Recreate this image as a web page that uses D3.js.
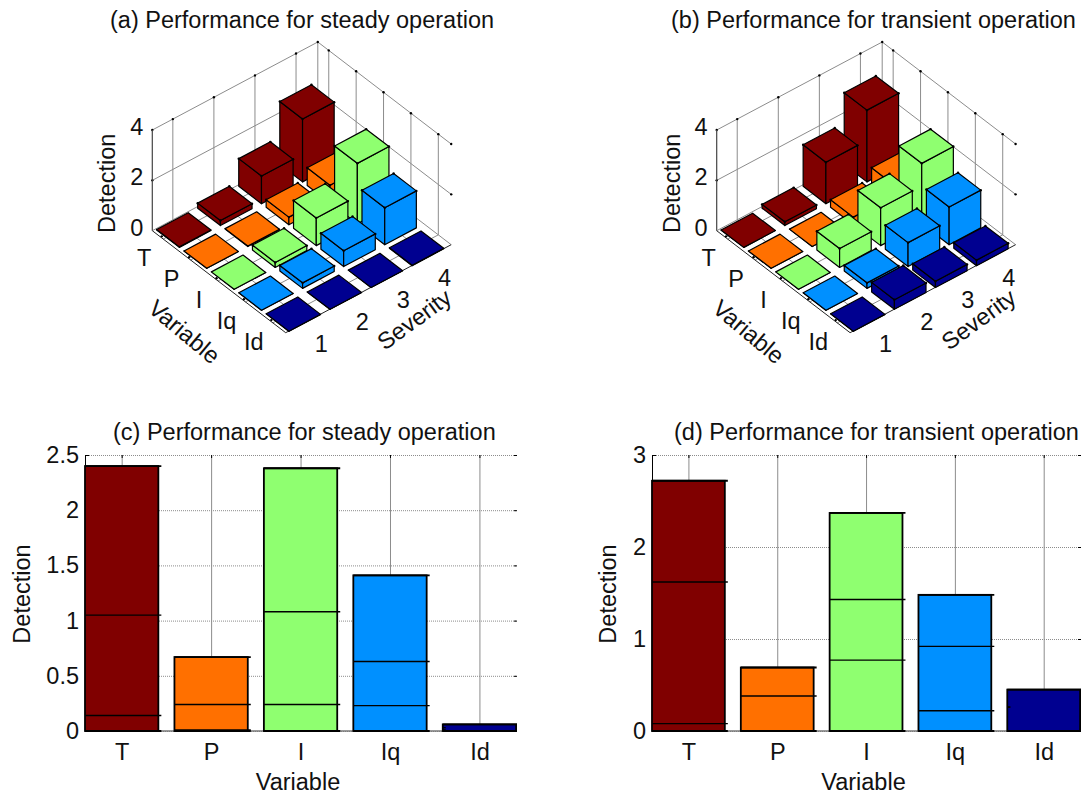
<!DOCTYPE html>
<html>
<head>
<meta charset="utf-8">
<title>Detection performance</title>
<script src="https://cdn.jsdelivr.net/npm/d3@7"></script>
<style>
body { margin: 0; background: #fff; }
text { font-family: "Liberation Sans", Arial, sans-serif; fill: #111; }
</style>
</head>
<body>
<svg id="chart" width="1083" height="796"></svg>
<script>
var variables = ["T", "P", "I", "Iq", "Id"];
var severities = [1, 2, 3, 4];
var colors = ["#800000", "#ff7000", "#8fff70", "#0090ff", "#000090"];

// heights of the 3d bars, one row per variable, one column per severity
var steadyBars = [
    [0.02, 0.2, 1.1, 2.5],
    [0, 0.02, 0.3, 0.7],
    [0, 0.2, 1.1, 2.4],
    [0, 0.22, 0.63, 1.47],
    [0, 0, 0, 0.02]
];
var transientBars = [
    [0, 0.15, 1.65, 2.85],
    [0, 0, 0.3, 0.7],
    [0, 0.75, 1.5, 2.4],
    [0, 0.22, 0.95, 1.5],
    [0, 0.38, 0.25, 0.22]
];

// contributions per severity for the stacked bars
var steadyStack = [
    [0, 0.14, 0.91, 1.35],
    [0, 0.01, 0.23, 0.43],
    [0, 0.24, 0.84, 1.3],
    [0, 0.23, 0.4, 0.78],
    [0, 0.01, 0.02, 0.03]
];
var transientStack = [
    [0, 0.08, 1.54, 1.1],
    [0, 0, 0.38, 0.31],
    [0, 0.77, 0.66, 0.94],
    [0, 0.22, 0.7, 0.56],
    [0, 0.26, 0, 0.19]
];

var steadyTicks = [0, 0.5, 1, 1.5, 2, 2.5];
var transientTicks = [0, 1, 2, 3];
var detectionTicks3d = [0, 2, 4];

var svg = d3.select("#chart");
var fontSize = 23.5;
var gridColor = "#8c8c8c";

/*
 * Draw one 3d panel. left is the screen position of the back left floor corner.
 */
function drawBars3d(left, title, titleX, data) {
    var g = svg.append("g");

    var uMin = 0.6, uMax = 5.47, vMin = 0.5, vMax = 4.53;
    var xU = d3.scaleLinear([uMin, uMax], [0, 133.4]);
    var yU = d3.scaleLinear([uMin, uMax], [0, 102]);
    var xV = d3.scaleLinear([vMin, vMax], [0, 165.5]);
    var yV = d3.scaleLinear([vMin, vMax], [0, -88]);
    var zS = d3.scaleLinear([0, 4], [0, 100.7]);

    function project(u, v, z) {
        return [left[0] + xU(u) + xV(v), left[1] + yU(u) + yV(v) - zS(z)];
    }

    function line(a, b, color, width) {
        g.append("line")
            .attr("x1", a[0]).attr("y1", a[1])
            .attr("x2", b[0]).attr("y2", b[1])
            .attr("stroke", color)
            .attr("stroke-width", width);
    }

    function dot(p) {
        g.append("circle")
            .attr("cx", p[0]).attr("cy", p[1])
            .attr("r", 1.2)
            .attr("fill", "#000");
    }

    // the two back walls
    detectionTicks3d.forEach(function(z) {
        if (z > 0) {
            line(project(uMin, vMin, z), project(uMin, vMax, z), gridColor, 1);
            line(project(uMin, vMax, z), project(uMax, vMax, z), gridColor, 1);
            dot(project(uMin, vMin, z));
            dot(project(uMax, vMax, z));
        }
    });
    severities.forEach(function(v) {
        line(project(uMin, v, 0), project(uMin, v, 4), gridColor, 1);
        line(project(uMin, v, 0), project(uMax, v, 0), gridColor, 1);
        dot(project(uMin, v, 4));
    });
    variables.forEach(function(name, i) {
        line(project(i + 1, vMax, 0), project(i + 1, vMax, 4), gridColor, 1);
        line(project(i + 1, vMin, 0), project(i + 1, vMax, 0), gridColor, 1);
        dot(project(i + 1, vMax, 4));
    });
    line(project(uMin, vMax, 0), project(uMin, vMax, 4), gridColor, 1);
    line(project(uMin, vMin, 0), project(uMin, vMin, 4), "#444", 1.2);
    line(project(uMin, vMin, 0), project(uMin, vMax, 0), gridColor, 1);
    line(project(uMin, vMax, 0), project(uMax, vMax, 0), gridColor, 1);
    dot(project(uMin, vMax, 4));

    // front floor edges
    line(project(uMin, vMin, 0), project(uMax, vMin, 0), "#222", 1);
    line(project(uMax, vMin, 0), project(uMax, vMax, 0), "#222", 1);
    variables.forEach(function(name, i) {
        dot(project(i + 1 - 0.1, vMin + 0.03, 0));
    });
    severities.forEach(function(s) {
        dot(project(uMax - 0.03, s - 0.1, 0));
    });

    // bars, back to front
    var cells = [];
    variables.forEach(function(name, i) {
        severities.forEach(function(s, j) {
            cells.push({u: i + 1.06, v: s - 0.04, z: data[i][j], color: colors[i]});
        });
    });
    cells.sort(function(a, b) { return (a.u - a.v) - (b.u - b.v); });

    var polygon = d3.line();
    cells.forEach(function(c) {
        var u0 = c.u - 0.415, u1 = c.u + 0.415;
        var v0 = c.v - 0.385, v1 = c.v + 0.385;
        var faces = [
            [[u0, v0, 0], [u1, v0, 0], [u1, v0, c.z], [u0, v0, c.z]],
            [[u1, v0, 0], [u1, v1, 0], [u1, v1, c.z], [u1, v0, c.z]],
            [[u0, v0, c.z], [u1, v0, c.z], [u1, v1, c.z], [u0, v1, c.z]]
        ];
        faces.forEach(function(face) {
            g.append("path")
                .attr("d", polygon(face.map(function(p) { return project(p[0], p[1], p[2]); })) + "Z")
                .attr("fill", c.color)
                .attr("stroke", "#000")
                .attr("stroke-width", 1.2)
                .attr("stroke-linejoin", "round");
        });
        if (c.z > 0.1) {
            dot(project(u1, v0, c.z));
            dot(project(u0, v0, c.z));
            dot(project(u1, v1, c.z));
            dot(project(u0, v1, c.z));
        }
    });

    // labels
    detectionTicks3d.forEach(function(z) {
        var p = project(uMin, vMin, z);
        g.append("text")
            .attr("x", p[0] - 9).attr("y", p[1] + 5)
            .attr("text-anchor", "end")
            .attr("font-size", fontSize)
            .text(z);
    });
    variables.forEach(function(name, i) {
        var p = project(i + 1, vMin, 0);
        g.append("text")
            .attr("x", p[0] - 19).attr("y", p[1] + 27)
            .attr("text-anchor", "middle")
            .attr("font-size", fontSize)
            .text(name);
    });
    severities.forEach(function(s) {
        var p = project(uMax, s, 0);
        g.append("text")
            .attr("x", p[0] + 15).attr("y", p[1] + 30)
            .attr("text-anchor", "middle")
            .attr("font-size", fontSize)
            .text(s);
    });

    var detection = project(uMin, vMin, 2);
    g.append("text")
        .attr("transform", "translate(" + (detection[0] - 37) + "," + (detection[1] + 3) + ") rotate(-90)")
        .attr("text-anchor", "middle")
        .attr("font-size", fontSize)
        .text("Detection");

    var variableAt = project(3, vMin, 0);
    g.append("text")
        .attr("transform", "translate(" + (variableAt[0] - 39) + "," + (variableAt[1] + 57) + ") rotate(40)")
        .attr("text-anchor", "middle")
        .attr("font-size", fontSize)
        .text("Variable");

    var severityAt = project(uMax, 3.6, 0);
    g.append("text")
        .attr("transform", "translate(" + (severityAt[0] + 6) + "," + (severityAt[1] + 61) + ") rotate(-36)")
        .attr("text-anchor", "middle")
        .attr("font-size", fontSize)
        .text("Severity");

    g.append("text")
        .attr("x", titleX).attr("y", 28)
        .attr("font-size", fontSize)
        .text(title);
}

/*
 * Draw one stacked bar panel.
 */
function drawStacked(box, title, titleX, data, yMax, yTicks, clipId) {
    var width = box.right - box.left;
    var height = box.bottom - box.top;
    var g = svg.append("g").attr("transform", "translate(" + box.left + "," + box.top + ")");

    var x = d3.scaleLinear([0.59, 5.42], [0, width]);
    var y = d3.scaleLinear([0, yMax], [height, 0]);
    var barHalf = 0.41;

    // grid
    g.append("g")
        .call(d3.axisLeft(y).tickValues(yTicks).tickSize(-width).tickFormat(""))
        .call(function(a) {
            a.select(".domain").remove();
            a.selectAll("line").attr("stroke", gridColor).attr("stroke-dasharray", "1,1");
        });
    g.append("g")
        .attr("transform", "translate(0," + height + ")")
        .call(d3.axisBottom(x).tickValues([1, 2, 3, 4, 5]).tickSize(-height).tickFormat(""))
        .call(function(a) {
            a.select(".domain").remove();
            a.selectAll("line").attr("stroke", gridColor);
        });
    g.append("line").attr("y1", height).attr("y2", height).attr("x1", 0).attr("x2", width)
        .attr("stroke", "#777").attr("stroke-width", 1.5);

    // axes with their labels
    var yAxis = g.append("g")
        .call(d3.axisLeft(y).tickValues(yTicks).tickSize(-4).tickPadding(6).tickFormat(d3.format("~g")));
    yAxis.select(".domain").attr("stroke", "#000");
    yAxis.selectAll("line").attr("stroke", "#000");
    yAxis.selectAll("text").attr("font-size", fontSize).attr("font-family", null);

    var rightTicks = g.append("g")
        .attr("transform", "translate(" + width + ",0)")
        .call(d3.axisRight(y).tickValues(yTicks).tickSize(-3).tickFormat(""));
    rightTicks.select(".domain").remove();
    rightTicks.selectAll("line").attr("stroke", "#000");

    var xAxis = g.append("g")
        .attr("transform", "translate(0," + height + ")")
        .call(d3.axisBottom(x).tickValues([1, 2, 3, 4, 5]).tickSize(-3).tickPadding(12)
            .tickFormat(function(d) { return variables[d - 1]; }));
    xAxis.select(".domain").remove();
    xAxis.selectAll("line").attr("stroke", "#000");
    xAxis.selectAll("text").attr("font-size", fontSize).attr("font-family", null);

    var topTicks = g.append("g")
        .call(d3.axisTop(x).tickValues([1, 2, 3, 4, 5]).tickSize(-3).tickFormat(""));
    topTicks.select(".domain").remove();
    topTicks.selectAll("line").attr("stroke", "#000");

    svg.append("clipPath").attr("id", clipId)
        .append("rect")
        .attr("x", box.left - 2).attr("y", box.top)
        .attr("width", width + 2).attr("height", height + 2);
    var bars = svg.append("g").attr("clip-path", "url(#" + clipId + ")")
        .append("g").attr("transform", "translate(" + box.left + "," + box.top + ")");

    variables.forEach(function(name, i) {
        var x0 = x(i + 1 - barHalf), x1 = x(i + 1 + barHalf);
        var total = d3.sum(data[i]);
        bars.append("rect")
            .attr("x", x0).attr("y", y(total))
            .attr("width", x1 - x0).attr("height", height - y(total))
            .attr("fill", colors[i])
            .attr("stroke", "#000")
            .attr("stroke-width", 1.8);
        // one line on top of each severity, sticking out a little at the right
        var sum = 0;
        data[i].forEach(function(value, j) {
            sum += value;
            if (sum === 0) {
                return;
            }
            var top = j === data[i].length - 1;
            var dark = colors[i] === "#000090" && !top;
            bars.append("line")
                .attr("x1", x0).attr("x2", dark ? x0 + 3 : x1 + 3)
                .attr("y1", y(sum)).attr("y2", y(sum))
                .attr("stroke", "#000")
                .attr("stroke-width", top ? 1.8 : 1.4);
        });
        bars.append("line")
            .attr("x1", x0).attr("x2", x1 + 3)
            .attr("y1", height).attr("y2", height)
            .attr("stroke", "#000")
            .attr("stroke-width", 2);
    });

    g.append("text")
        .attr("transform", "translate(" + box.detectionX + "," + (height / 2 + 1) + ") rotate(-90)")
        .attr("text-anchor", "middle")
        .attr("font-size", fontSize)
        .text("Detection");
    g.append("text")
        .attr("x", width / 2 - 3).attr("y", height + 59)
        .attr("text-anchor", "middle")
        .attr("font-size", fontSize)
        .text("Variable");
    svg.append("text")
        .attr("x", titleX).attr("y", 440)
        .attr("font-size", fontSize)
        .text(title);
}

drawBars3d([152.3, 230.7], "(a) Performance for steady operation", 110, steadyBars);
drawBars3d([716.7, 230.7], "(b) Performance for transient operation", 671, transientBars);
drawStacked({left: 85, right: 517, top: 455, bottom: 731, detectionX: -55},
    "(c) Performance for steady operation", 113, steadyStack, 2.5, steadyTicks, "clip-c");
drawStacked({left: 652, right: 1081, top: 455, bottom: 731, detectionX: -36},
    "(d) Performance for transient operation", 674, transientStack, 3, transientTicks, "clip-d");
</script>
</body>
</html>
